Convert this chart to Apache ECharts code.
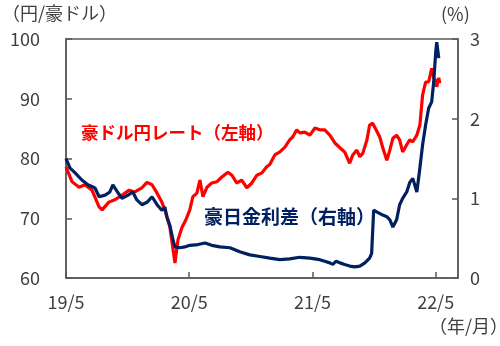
<!DOCTYPE html>
<html><head><meta charset="utf-8">
<script src="https://cdn.jsdelivr.net/npm/echarts@6/dist/echarts.min.js"></script>
<style>html,body{margin:0;padding:0;background:#fff}#c{width:500px;height:346px}</style>
</head><body><div id="c"></div>
<script>
// AUD/JPY rate (left axis, yen per AUD)
const audDates = ['2019-05-01','2019-05-19','2019-06-09','2019-06-26','2019-07-17','2019-08-07','2019-08-16','2019-09-05','2019-09-23','2019-10-08','2019-11-04','2019-11-21','2019-12-12','2019-12-27','2020-01-11','2020-01-26','2020-02-09','2020-02-18','2020-03-04','2020-03-19','2020-03-28','2020-04-09','2020-04-20','2020-05-02','2020-05-11','2020-05-23','2020-06-01','2020-06-10','2020-06-22','2020-07-06','2020-07-21','2020-08-05','2020-08-23','2020-09-04','2020-09-18','2020-10-03','2020-10-18','2020-11-02','2020-11-17','2020-12-02','2020-12-16','2020-12-25','2021-01-09','2021-01-24','2021-02-08','2021-02-22','2021-03-03','2021-03-15','2021-03-24','2021-04-08','2021-04-23','2021-05-08','2021-05-22','2021-06-06','2021-06-21','2021-07-06','2021-07-21','2021-08-04','2021-08-19','2021-08-28','2021-09-09','2021-09-18','2021-09-27','2021-10-09','2021-10-17','2021-10-26','2021-11-07','2021-11-16','2021-11-25','2021-12-07','2021-12-16','2021-12-25','2022-01-05','2022-01-14','2022-01-23','2022-02-04','2022-02-13','2022-02-22','2022-03-06','2022-03-15','2022-03-23','2022-04-01','2022-04-10','2022-04-19','2022-04-25','2022-05-01','2022-05-04','2022-05-10','2022-05-13'];
const audValues = [78.6,76.1,75.2,75.6,74.7,71.9,71.4,72.7,73.1,73.6,74.7,74.4,75.1,76.0,75.6,74.2,72.7,71.4,68.5,62.5,66.4,68.5,69.7,71.4,73.6,74.2,76.4,73.6,75.2,75.9,76.1,76.9,77.7,77.2,75.9,76.4,75.1,75.9,77.2,77.6,78.6,79.0,80.6,81.1,81.9,83.1,83.6,84.8,84.3,84.4,83.9,85.1,84.8,84.8,83.9,82.6,81.8,81.1,79.2,80.6,81.4,80.3,80.9,83.1,85.6,85.9,84.6,83.6,81.8,79.7,81.4,83.4,83.9,83.1,81.1,82.3,83.1,82.8,83.9,85.6,90.6,92.8,92.8,95.1,93.5,93.0,92.0,93.5,92.6];

// AUD-JPY interest rate spread (right axis, %)
const spreadDates = ['2019-05-01','2019-05-13','2019-05-28','2019-06-17','2019-07-05','2019-07-26','2019-08-07','2019-08-25','2019-09-08','2019-09-17','2019-10-02','2019-10-14','2019-11-01','2019-11-15','2019-11-27','2019-12-12','2019-12-27','2020-01-11','2020-01-26','2020-02-09','2020-02-18','2020-02-24','2020-03-04','2020-03-13','2020-03-19','2020-04-03','2020-04-17','2020-05-02','2020-05-26','2020-06-16','2020-07-06','2020-07-30','2020-08-29','2020-09-27','2020-10-27','2020-11-26','2020-12-25','2021-01-24','2021-02-22','2021-03-24','2021-04-23','2021-05-22','2021-06-06','2021-06-21','2021-06-30','2021-07-09','2021-07-21','2021-08-04','2021-08-19','2021-09-03','2021-09-18','2021-10-03','2021-10-17','2021-10-23','2021-10-29','2021-11-07','2021-11-25','2021-12-07','2021-12-16','2021-12-25','2022-01-05','2022-01-14','2022-01-23','2022-02-04','2022-02-13','2022-02-22','2022-03-06','2022-03-15','2022-03-23','2022-04-01','2022-04-10','2022-04-19','2022-04-25','2022-05-01','2022-05-04','2022-05-10'];
const spreadValues = [1.50,1.38,1.32,1.23,1.17,1.13,1.02,1.04,1.08,1.17,1.07,1.00,1.04,1.08,0.98,0.92,0.95,1.02,0.92,0.85,0.89,0.77,0.66,0.48,0.39,0.38,0.39,0.41,0.42,0.44,0.41,0.39,0.38,0.33,0.29,0.27,0.25,0.23,0.24,0.26,0.25,0.23,0.21,0.19,0.17,0.21,0.19,0.17,0.15,0.14,0.15,0.19,0.25,0.31,0.85,0.83,0.79,0.77,0.73,0.64,0.73,0.92,1.00,1.08,1.20,1.25,1.08,1.38,1.67,1.92,2.13,2.21,2.46,2.84,2.96,2.76];

const leftTicks = [60, 70, 80, 90, 100];
const rightTicks = [0, 1, 2, 3];
const xTickLabels = ['19/5', '20/5', '21/5', '22/5'];
const startDate = '2019-05-01';
const endDate = '2022-07-06';

const DAY = 86400000, YEAR_DAYS = 365.25;
const t0 = Date.parse(startDate);
const toDays = d => (Date.parse(d) - t0) / DAY;
const FONT = "'Noto Sans CJK JP', 'Noto Sans', sans-serif";
const TXT = '#404040';

const chart = echarts.init(document.getElementById('c'), null, {renderer: 'canvas'});
chart.setOption({
  animation: false,
  backgroundColor: '#fff',
  grid: {left: 66, right: 42, top: 39, bottom: 68, show: true, borderColor: '#595959', borderWidth: 1.5, backgroundColor: 'transparent'},
  xAxis: {
    type: 'value', min: 0, max: toDays(endDate), interval: YEAR_DAYS,
    axisLine: {show: true, lineStyle: {color: '#595959', width: 1.5}},
    axisTick: {show: true, inside: true, length: 6, lineStyle: {color: '#595959', width: 1.5}},
    splitLine: {show: false},
    axisLabel: {
      showMaxLabel: false, margin: 15, color: TXT, fontFamily: FONT, fontSize: 18,
      formatter: v => xTickLabels[Math.round(v / YEAR_DAYS)] || ''
    }
  },
  yAxis: [{
    type: 'value', min: leftTicks[0], max: leftTicks[leftTicks.length - 1], interval: 10, position: 'left',
    axisLine: {show: true, lineStyle: {color: '#595959', width: 1.5}},
    axisTick: {show: true, inside: true, length: 6, lineStyle: {color: '#595959', width: 1.5}},
    splitLine: {show: false},
    axisLabel: {margin: 26, color: TXT, fontFamily: FONT, fontSize: 18}
  }, {
    type: 'value', min: rightTicks[0], max: rightTicks[rightTicks.length - 1], interval: 1, position: 'right',
    axisLine: {show: true, lineStyle: {color: '#595959', width: 1.5}},
    axisTick: {show: true, inside: true, length: 6, lineStyle: {color: '#595959', width: 1.5}},
    splitLine: {show: false},
    axisLabel: {margin: 12, color: TXT, fontFamily: FONT, fontSize: 18}
  }],
  series: [{
    type: 'line', yAxisIndex: 0, showSymbol: false, symbol: 'none',
    lineStyle: {color: '#FF0000', width: 3.2}, itemStyle: {color: '#FF0000'},
    data: audDates.map((d, i) => [toDays(d), audValues[i]])
  }, {
    type: 'line', yAxisIndex: 1, showSymbol: false, symbol: 'none',
    lineStyle: {color: '#002060', width: 3.2}, itemStyle: {color: '#002060'},
    data: spreadDates.map((d, i) => [toDays(d), spreadValues[i]])
  }],
  graphic: [
    {type: 'text', left: 2, top: 4, style: {text: '（円/豪ドル）', fill: TXT, font: `18px ${FONT}`}},
    {type: 'text', left: 441, top: 5, style: {text: '(%)', fill: TXT, font: `18px ${FONT}`}},
    {type: 'text', left: 429, top: 317, style: {text: '（年/月）', fill: TXT, font: `18px ${FONT}`}},
    {type: 'text', left: 81, top: 124, style: {text: '豪ドル円レート（左軸）', fill: '#FF0000', font: `bold 17.5px ${FONT}`}},
    {type: 'text', left: 204, top: 207, style: {text: '豪日金利差（右軸）', fill: '#002060', font: `bold 19px ${FONT}`}}
  ]
});
</script></body></html>
